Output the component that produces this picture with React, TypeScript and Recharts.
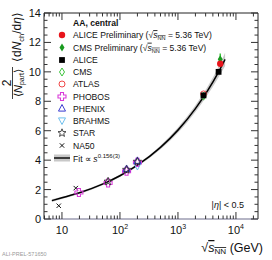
import React from "react";
import { Area, ComposedChart, Customized, ErrorBar, Line, Scatter, XAxis, YAxis } from "recharts";

// values: sqrt(s_NN) in GeV, (2/<Npart>) <dNch/deta>
const alicePrelim = [{ energy: 5360, value: 10.55 }];
const cmsPrelim = [{ energy: 5360, value: 10.85, err: 0.4 }];
const alice = [
  { energy: 2760, value: 8.4 },
  { energy: 5020, value: 10.0 },
];
const cms = [{ energy: 2760, value: 8.35 }];
const atlas = [{ energy: 2760, value: 8.5 }];
const phobos = [
  { energy: 19.6, value: 1.8 },
  { energy: 62.4, value: 2.45 },
  { energy: 130, value: 3.25 },
  { energy: 200, value: 3.85 },
];
const phenix = [
  { energy: 130, value: 3.4 },
  { energy: 200, value: 3.95 },
];
const brahms = [{ energy: 200, value: 3.6 }];
const star = [
  { energy: 62.4, value: 2.55 },
  { energy: 130, value: 3.35 },
  { energy: 200, value: 3.9 },
];
const na50 = [
  { energy: 8.8, value: 0.9 },
  { energy: 17.3, value: 2.1 },
];

const fitEnergy = [6.7, 10, 20, 50, 100, 200, 500, 1000, 2000, 5000, 6500];
const fitValue = [1.25, 1.44, 1.78, 2.37, 2.94, 3.66, 4.87, 6.04, 7.5, 9.98, 10.85];
const fitLow = [1.15, 1.36, 1.7, 2.29, 2.86, 3.57, 4.74, 5.86, 7.27, 9.62, 10.4];
const fitHigh = [1.35, 1.52, 1.86, 2.45, 3.02, 3.75, 5.0, 6.22, 7.73, 10.34, 11.3];

const fitData = fitEnergy.map((energy, i) => ({
  energy,
  value: fitValue[i],
  band: [fitLow[i], fitHigh[i]],
}));

const xTicks = [
  5, 6, 7, 8, 9, 10, 20, 30, 40, 50, 60, 70, 80, 90, 100, 200, 300, 400, 500, 600, 700, 800, 900,
  1000, 2000, 3000, 4000, 5000, 6000, 7000, 8000, 9000, 10000, 20000,
];
const xMajor = [10, 100, 1000, 10000];
const yTicks = [
  0, 0.5, 1, 1.5, 2, 2.5, 3, 3.5, 4, 4.5, 5, 5.5, 6, 6.5, 7, 7.5, 8, 8.5, 9, 9.5, 10, 10.5, 11, 11.5,
  12, 12.5, 13, 13.5, 14,
];
const yMajor = [0, 2, 4, 6, 8, 10, 12, 14];

const legendNames = ["ALICE", "CMS", "ATLAS", "PHOBOS", "PHENIX", "BRAHMS", "STAR", "NA50"];

const FONT = "'Liberation Sans', Arial, Helvetica, sans-serif";
const TOP = 13;
const LEFT = 44;
const RIGHT = 258;
const BOTTOM = 219;
const LEG = 8.6;

type P = { cx?: number; cy?: number };

const shapes: Record<string, (p: P) => React.ReactElement> = {
  alicePrelim: ({ cx = 0, cy = 0 }) => <circle cx={cx} cy={cy} r={3.2} fill="#e8141b" />,
  cmsPrelim: ({ cx = 0, cy = 0 }) => (
    <polygon points={`${cx},${cy - 4} ${cx + 2.5},${cy} ${cx},${cy + 4} ${cx - 2.5},${cy}`} fill="#199a1f" />
  ),
  alice: ({ cx = 0, cy = 0 }) => <rect x={cx - 2.9} y={cy - 2.9} width={5.8} height={5.8} fill="#000" />,
  cms: ({ cx = 0, cy = 0 }) => (
    <polygon
      points={`${cx},${cy - 4} ${cx + 2.5},${cy} ${cx},${cy + 4} ${cx - 2.5},${cy}`}
      fill="none"
      stroke="#3cc43c"
      strokeWidth={1}
    />
  ),
  atlas: ({ cx = 0, cy = 0 }) => <circle cx={cx} cy={cy} r={3} fill="none" stroke="#f04848" strokeWidth={1} />,
  phobos: ({ cx = 0, cy = 0 }) => {
    const a = 1.5;
    const b = 4;
    const pts = [
      [-a, -b], [a, -b], [a, -a], [b, -a], [b, a], [a, a], [a, b], [-a, b], [-a, a], [-b, a], [-b, -a], [-a, -a],
    ]
      .map(([dx, dy]) => `${cx + dx},${cy + dy}`)
      .join(" ");
    return <polygon points={pts} fill="none" stroke="#d93cd9" strokeWidth={1.1} />;
  },
  phenix: ({ cx = 0, cy = 0 }) => (
    <polygon
      points={`${cx},${cy - 4} ${cx + 3.5},${cy + 2.6} ${cx - 3.5},${cy + 2.6}`}
      fill="none"
      stroke="#3b3bd0"
      strokeWidth={1}
    />
  ),
  brahms: ({ cx = 0, cy = 0 }) => (
    <polygon
      points={`${cx},${cy + 4} ${cx + 3.5},${cy - 2.6} ${cx - 3.5},${cy - 2.6}`}
      fill="none"
      stroke="#6fc0ee"
      strokeWidth={1}
    />
  ),
  star: ({ cx = 0, cy = 0 }) => {
    const pts: string[] = [];
    for (let i = 0; i < 10; i++) {
      const ang = (Math.PI / 5) * i - Math.PI / 2;
      const r = i % 2 === 0 ? 4.2 : 1.8;
      pts.push(`${cx + r * Math.cos(ang)},${cy + r * Math.sin(ang)}`);
    }
    return <polygon points={pts.join(" ")} fill="none" stroke="#333" strokeWidth={0.9} />;
  },
  na50: ({ cx = 0, cy = 0 }) => (
    <g stroke="#111" strokeWidth={1}>
      <line x1={cx - 2.2} y1={cy - 2.2} x2={cx + 2.2} y2={cy + 2.2} />
      <line x1={cx - 2.2} y1={cy + 2.2} x2={cx + 2.2} y2={cy - 2.2} />
    </g>
  ),
};

function XTick(props: any) {
  const { x, y, payload } = props;
  const v = payload.value as number;
  const major = xMajor.includes(v);
  const len = major ? 7 : 3.5;
  const exp = Math.round(Math.log10(v));
  return (
    <g>
      <line x1={x} x2={x} y1={y} y2={y - len} stroke="#333" strokeWidth={1} />
      <line x1={x} x2={x} y1={TOP} y2={TOP + len} stroke="#333" strokeWidth={1} />
      {major && (
        <text x={x} y={y + 15} textAnchor="middle" fontSize={11} fontFamily={FONT} fill="#111">
          10
          {exp > 1 && (
            <tspan dy={-5} fontSize={7}>
              {exp}
            </tspan>
          )}
        </text>
      )}
    </g>
  );
}

function YTick(props: any) {
  const { x, y, payload } = props;
  const v = payload.value as number;
  const major = yMajor.includes(v);
  const len = major ? 7 : 3.5;
  return (
    <g>
      <line x1={x} x2={x + len} y1={y} y2={y} stroke="#333" strokeWidth={1} />
      <line x1={RIGHT} x2={RIGHT - len} y1={y} y2={y} stroke="#333" strokeWidth={1} />
      {major && (
        <text x={x - 3} y={y + 4} textAnchor="end" fontSize={11} fontFamily={FONT} fill="#111">
          {v}
        </text>
      )}
    </g>
  );
}

function SqrtS({ size }: { size: number }) {
  return (
    <>
      <tspan>√</tspan>
      <tspan fontStyle="italic" textDecoration="overline">
        s
      </tspan>
      <tspan fontSize={size * 0.65} dy={2} textDecoration="overline">
        NN
      </tspan>
      <tspan dy={-2}> </tspan>
    </>
  );
}

function Overlay() {
  const mx = 62;
  const tx = 73;
  const rows = [35, 47.5, 60, 72, 84, 96.5, 108.5, 120.5, 133, 145.5];
  const keys = ["alicePrelim", "cmsPrelim", "alice", "cms", "atlas", "phobos", "phenix", "brahms", "star", "na50"];
  return (
    <g fontFamily={FONT}>
      <line x1={LEFT} x2={RIGHT} y1={TOP} y2={TOP} stroke="#222" />
      <line x1={RIGHT} x2={RIGHT} y1={TOP} y2={BOTTOM} stroke="#222" />

      <text x={tx} y={26} fontSize={LEG} fontWeight="bold" fill="#111">
        AA, central
      </text>
      {keys.map((k, i) => {
        const Shape = shapes[k];
        return <Shape key={k} cx={mx} cy={rows[i]} />;
      })}
      <text x={tx} y={rows[0] + 3.2} fontSize={LEG} fill="#111">
        ALICE Preliminary (<SqrtS size={LEG} />= 5.36 TeV)
      </text>
      <text x={tx} y={rows[1] + 3.2} fontSize={LEG} fill="#111">
        CMS Preliminary (<SqrtS size={LEG} />= 5.36 TeV)
      </text>
      {legendNames.map((name, i) => (
        <text key={name} x={tx} y={rows[i + 2] + 3.2} fontSize={LEG} fill="#111">
          {name}
        </text>
      ))}
      <rect x={54} y={154.5} width={16} height={7} fill="#c8c8c8" />
      <line x1={54} x2={70} y1={158} y2={158} stroke="#000" strokeWidth={1.4} />
      <text x={tx} y={161.5} fontSize={LEG} fill="#111">
        Fit ∝ <tspan fontStyle="italic">s</tspan>
        <tspan fontSize={6} dy={-4}>
          0.156(3)
        </tspan>
      </text>

      <text x={244} y={208} fontSize={9} textAnchor="end" fill="#111">
        |<tspan fontStyle="italic">η</tspan>| &lt; 0.5
      </text>

      <text x={263} y={252} fontSize={12.5} textAnchor="end" fill="#111">
        <SqrtS size={12.5} />
        (GeV)
      </text>

      <g transform="translate(0,100) rotate(-90)" fill="#111">
        <text x={17} y={11} fontSize={12} textAnchor="middle">
          2
        </text>
        <line x1={1} x2={33} y1={12.5} y2={12.5} stroke="#111" strokeWidth={0.8} />
        <text x={17} y={22} fontSize={11} textAnchor="middle">
          ⟨<tspan fontStyle="italic">N</tspan>
          <tspan fontSize={7} dy={2}>
            part
          </tspan>
          <tspan dy={-2}>⟩</tspan>
        </text>
        <text x={38} y={21} fontSize={12}>
          ⟨d<tspan fontStyle="italic">N</tspan>
          <tspan fontSize={7.5} dy={2.5}>
            ch
          </tspan>
          <tspan dy={-2.5}>/d</tspan>
          <tspan fontStyle="italic">η</tspan>⟩
        </text>
      </g>

      <text x={2} y={256} fontSize={5.5} fill="#9a9a9a">
        ALI-PREL-571650
      </text>
    </g>
  );
}

const series = [
  { key: "na50", data: na50 },
  { key: "phobos", data: phobos },
  { key: "brahms", data: brahms },
  { key: "phenix", data: phenix },
  { key: "star", data: star },
  { key: "atlas", data: atlas },
  { key: "cms", data: cms },
  { key: "alice", data: alice },
];

export default function App() {
  return (
    <div style={{ position: "absolute", left: 0, top: 0, width: 272, height: 260, background: "#fff" }}>
      <ComposedChart width={272} height={260} margin={{ top: TOP, right: 272 - RIGHT, bottom: 0, left: 0 }}>
        <XAxis
          xAxisId="b"
          dataKey="energy"
          type="number"
          scale="log"
          domain={[4.9, 24000]}
          allowDataOverflow
          ticks={xTicks}
          interval={0}
          height={260 - BOTTOM}
          tickSize={0}
          tickMargin={0}
          tickLine={false}
          axisLine={{ stroke: "#6c6c8c", strokeWidth: 1.2 }}
          tick={<XTick />}
        />
        <YAxis
          yAxisId="l"
          type="number"
          domain={[0, 14]}
          allowDataOverflow
          ticks={yTicks}
          interval={0}
          width={LEFT}
          tickSize={0}
          tickMargin={0}
          tickLine={false}
          axisLine={{ stroke: "#222" }}
          tick={<YTick />}
        />
        <Area
          xAxisId="b"
          yAxisId="l"
          data={fitData}
          dataKey="band"
          type="monotone"
          stroke="none"
          fill="#bdbdbd"
          fillOpacity={0.8}
          isAnimationActive={false}
        />
        <Line
          xAxisId="b"
          yAxisId="l"
          data={fitData}
          dataKey="value"
          type="monotone"
          stroke="#000"
          strokeWidth={1.5}
          dot={false}
          isAnimationActive={false}
        />
        {series.map((s) => (
          <Scatter
            key={s.key}
            xAxisId="b"
            yAxisId="l"
            data={s.data}
            dataKey="value"
            shape={shapes[s.key]}
            isAnimationActive={false}
          />
        ))}
        <Scatter
          xAxisId="b"
          yAxisId="l"
          data={cmsPrelim}
          dataKey="value"
          shape={shapes.cmsPrelim}
          isAnimationActive={false}
        >
          <ErrorBar dataKey="err" direction="y" width={0} stroke="#3cc43c" strokeWidth={1.5} />
        </Scatter>
        <Scatter
          xAxisId="b"
          yAxisId="l"
          data={alicePrelim}
          dataKey="value"
          shape={shapes.alicePrelim}
          isAnimationActive={false}
        />
        <Customized component={<Overlay />} />
      </ComposedChart>
    </div>
  );
}
